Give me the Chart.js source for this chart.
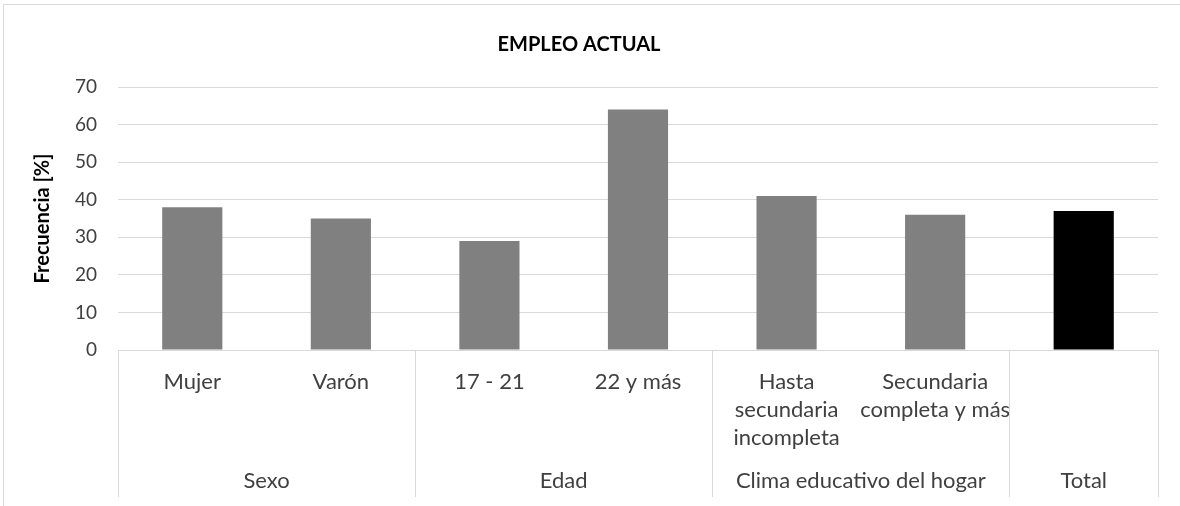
<!DOCTYPE html>
<html>
<head>
<meta charset="utf-8">
<script src="https://cdn.jsdelivr.net/npm/chart.js@4.4.1/dist/chart.umd.min.js"></script>
<style>
  body { margin: 0; background: #fff; }
  canvas { display: block; }
</style>
</head>
<body>
<canvas id="myChart" width="1180" height="506"></canvas>
<script>
var categories = ['Mujer', 'Varón', '17 - 21', '22 y más', ['Hasta', 'secundaria', 'incompleta'], ['Secundaria', 'completa y más'], ''];
var values = [38, 35, 29, 64, 41, 36, 37];
var barColors = ['#808080', '#808080', '#808080', '#808080', '#808080', '#808080', '#000000'];
var groups = ['Sexo', 'Edad', 'Clima educativo del hogar', 'Total'];
var groupSizes = [2, 2, 2, 1];
var yTicks = [0, 10, 20, 30, 40, 50, 60, 70];

var FONT = 'Lato';

// group labels and separators under the category labels
var groupPlugin = {
    id: 'groups',
    beforeDraw: function (chart) {
        var ctx = chart.ctx;
        ctx.save();
        ctx.strokeStyle = '#d9d9d9';
        ctx.lineWidth = 1;
        ctx.strokeRect(3.5, 4.5, 1200, 600);
        ctx.restore();
    },
    afterDraw: function (chart) {
        var ctx = chart.ctx;
        var x = chart.scales.x;
        var area = chart.chartArea;
        var half = (x.getPixelForValue(1) - x.getPixelForValue(0)) / 2;
        var bottom = 497;
        ctx.save();
        ctx.strokeStyle = '#d9d9d9';
        ctx.lineWidth = 1;
        ctx.fillStyle = '#404040';
        ctx.font = '22px ' + FONT;
        ctx.textAlign = 'center';
        ctx.textBaseline = 'middle';
        var start = 0;
        var edges = [Math.round(area.left) + 0.5];
        for (var g = 0; g < groups.length; g++) {
            var end = start + groupSizes[g] - 1;
            var left = x.getPixelForValue(start) - half;
            var right = x.getPixelForValue(end) + half;
            edges.push(Math.round(right) + 0.5);
            ctx.fillText(groups[g], (left + right) / 2, 481);
            start = end + 1;
        }
        edges.forEach(function (ex) {
            ctx.beginPath();
            ctx.moveTo(ex, area.bottom);
            ctx.lineTo(ex, bottom);
            ctx.stroke();
        });
        ctx.restore();
    }
};

var ctx = document.getElementById('myChart');
var myBarChart = new Chart(ctx, {
    type: 'bar',
    data: {
        labels: categories,
        datasets: [{
            data: values,
            backgroundColor: barColors,
            borderWidth: 0,
            categoryPercentage: 1,
            barPercentage: 0.405
        }]
    },
    options: {
        responsive: false,
        animation: false,
        devicePixelRatio: 1,
        layout: { padding: { top: 33, left: 0, right: 22, bottom: 0 } },
        plugins: {
            legend: { display: false },
            tooltip: { enabled: false },
            title: {
                display: true,
                text: 'EMPLEO ACTUAL',
                color: '#000',
                font: { family: FONT, size: 20, weight: 'bold' },
                padding: { top: 0, bottom: 30 }
            }
        },
        scales: {
            x: {
                grid: { display: false, drawTicks: false },
                border: { display: false },
                ticks: {
                    color: '#404040',
                    font: { family: FONT, size: 22, lineHeight: 1.27 },
                    maxRotation: 0,
                    autoSkip: false,
                    padding: 18
                },
                afterFit: function (scale) { scale.height = 156; }
            },
            y: {
                min: 0,
                max: 70,
                afterBuildTicks: function (scale) {
                    scale.ticks = yTicks.map(function (v) { return { value: v }; });
                },
                grid: { color: '#d9d9d9', drawTicks: false },
                border: { display: false },
                ticks: {
                    color: '#404040',
                    font: { family: FONT, size: 19 },
                    padding: 21
                },
                title: {
                    display: true,
                    text: 'Frecuencia [%]',
                    color: '#000',
                    font: { family: FONT, size: 20, weight: 'bold' },
                    padding: { top: 31, bottom: 0 }
                },
                afterFit: function (scale) { scale.width = 118; }
            }
        }
    },
    plugins: [groupPlugin]
});
</script>
</body>
</html>
